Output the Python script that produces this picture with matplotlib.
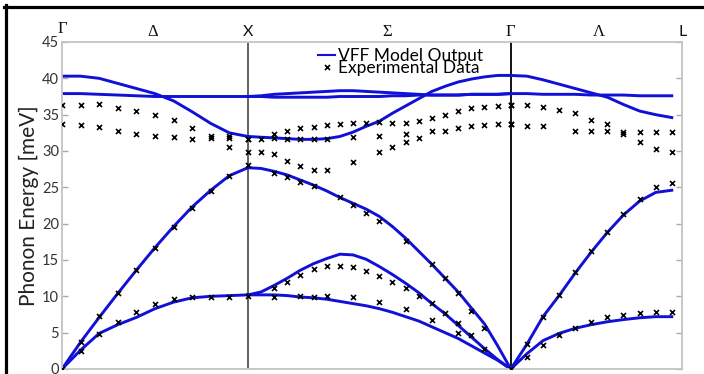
import numpy as np
import matplotlib

matplotlib.use("Agg")
import matplotlib.pyplot as plt
from matplotlib.lines import Line2D

# path through the Brillouin zone: G-X (1), X-G via Sigma (sqrt 2), G-L (sqrt 3 / 2)
GAMMA1 = 0.0
X_PT = 1.0
GAMMA2 = 1.0 + np.sqrt(2)
L_PT = GAMMA2 + np.sqrt(3) / 2

# ---- VFF model, Gamma -> X (10 steps) ----
gx_lo = [40.3, 40.3, 40.0, 39.3, 38.6, 37.9, 36.9, 35.4, 33.8, 32.5, 32.0]
gx_to = [37.9, 37.9, 37.8, 37.7, 37.6, 37.5, 37.5, 37.5, 37.5, 37.5, 37.5]
gx_la = [0.0, 3.7, 7.1, 10.4, 13.6, 16.7, 19.6, 22.3, 24.6, 26.6, 27.7]
gx_ta = [0.0, 2.6, 4.9, 6.1, 7.1, 8.3, 9.2, 9.8, 10.0, 10.1, 10.2]

# ---- VFF model, X -> Gamma along Sigma (20 steps) ----
sg_lo = [32.0, 31.9, 31.8, 31.7, 31.6, 31.6, 31.7, 32.0, 32.6, 33.4, 34.1,
         35.2, 36.2, 37.2, 38.2, 38.9, 39.5, 39.9, 40.2, 40.4, 40.4]
sg_to1 = [37.5, 37.6, 37.8, 37.9, 38.0, 38.1, 38.2, 38.3, 38.3, 38.2, 38.1,
          38.0, 37.9, 37.8, 37.7, 37.7, 37.7, 37.8, 37.8, 37.8, 37.9]
sg_to2 = [37.5, 37.5, 37.4, 37.4, 37.4, 37.4, 37.4, 37.5, 37.5, 37.5, 37.5,
          37.6, 37.6, 37.7, 37.7, 37.7, 37.7, 37.8, 37.8, 37.8, 37.9]
sg_la = [27.7, 27.6, 27.2, 26.7, 26.0, 25.3, 24.5, 23.6, 22.8, 22.0, 21.0,
         19.6, 18.0, 16.2, 14.4, 12.5, 10.6, 8.4, 6.2, 3.2, 0.0]
sg_ta2 = [10.2, 10.6, 11.5, 12.5, 13.6, 14.5, 15.2, 15.8, 15.7, 15.1, 14.1,
          13.0, 11.8, 10.5, 9.0, 7.6, 6.0, 4.4, 2.8, 1.3, 0.0]
sg_ta1 = [10.2, 10.2, 10.2, 10.1, 9.9, 9.8, 9.6, 9.3, 9.0, 8.7, 8.3,
          7.8, 7.2, 6.6, 5.8, 5.0, 4.2, 3.2, 2.2, 1.2, 0.0]

# ---- VFF model, Gamma -> L along Lambda (10 steps) ----
gl_lo = [40.4, 40.3, 39.8, 39.2, 38.6, 38.0, 37.4, 36.4, 35.5, 35.0, 34.6]
gl_to = [37.9, 37.9, 37.8, 37.8, 37.8, 37.7, 37.7, 37.7, 37.6, 37.6, 37.6]
gl_la = [0.0, 3.4, 7.2, 10.1, 13.2, 16.1, 18.8, 21.2, 23.1, 24.3, 24.6]
gl_ta = [0.0, 2.1, 3.9, 4.9, 5.6, 6.1, 6.5, 6.8, 7.05, 7.2, 7.2]

# ---- experimental data (step index along each segment, energy meV) ----
ex_gx_opt1_i = [0, 1, 2, 3, 4, 5, 6, 7, 8, 9, 10]
ex_gx_opt1_e = [36.3, 36.3, 36.4, 35.9, 35.5, 35.0, 34.3, 33.2, 32.0, 32.0, 31.7]
ex_gx_opt2_i = [0, 1, 2, 3, 4, 5, 6, 7, 8, 9, 9, 10, 10]
ex_gx_opt2_e = [33.7, 33.6, 33.3, 32.8, 32.4, 32.1, 31.9, 31.6, 31.8, 31.8, 30.5, 29.8, 28.1]
ex_gx_la_i = [0, 1, 2, 3, 4, 5, 6, 7, 8, 9]
ex_gx_la_e = [0.0, 3.7, 7.3, 10.5, 13.6, 16.6, 19.5, 22.1, 24.5, 26.6]
ex_gx_ta_i = [1, 2, 3, 4, 5, 6, 7, 8, 9, 10]
ex_gx_ta_e = [2.5, 4.75, 6.5, 7.9, 8.9, 9.6, 9.85, 9.95, 9.95, 10.0]

ex_sg_a_i = [0, 1, 2, 3, 4, 5, 6]
ex_sg_a_e = [31.7, 31.7, 31.8, 31.7, 31.7, 31.7, 31.7]
ex_sg_b_i = [2, 3, 4, 5, 6, 7, 8, 9, 10, 11, 12, 13, 14, 15, 16, 17, 18, 19, 20]
ex_sg_b_e = [32.3, 32.7, 33.1, 33.3, 33.6, 33.7, 33.8, 33.9, 34.0, 33.9,
             33.9, 34.1, 34.6, 35.0, 35.5, 35.9, 36.1, 36.2, 36.3]
ex_sg_c_i = [8, 10, 12, 13, 14, 15, 16, 17, 18, 19, 20]
ex_sg_c_e = [31.9, 32.1, 32.4, 31.8, 32.7, 32.8, 33.1, 33.4, 33.6, 33.7, 33.7]
ex_sg_d_i = [10, 11, 12]
ex_sg_d_e = [29.9, 30.6, 31.3]
ex_sg_e_i = [1, 2, 3, 4, 5, 6, 8]
ex_sg_e_e = [29.9, 29.6, 28.6, 27.9, 27.4, 27.4, 28.5]
ex_sg_la_i = [2, 3, 4, 5, 7, 8, 9, 10, 12, 14, 15, 16, 17, 18]
ex_sg_la_e = [27.0, 26.4, 25.7, 25.2, 23.7, 22.6, 21.4, 20.3, 17.6, 14.4, 12.5, 10.5, 8.0, 5.7]
ex_sg_ta2_i = [2, 3, 4, 5, 6, 7, 8, 9, 10, 11, 12, 13, 14, 15, 16, 17, 18, 20]
ex_sg_ta2_e = [11.1, 12.0, 13.0, 13.8, 14.2, 14.2, 14.0, 13.5, 12.8, 12.0,
               11.1, 10.0, 9.1, 7.7, 6.3, 4.7, 2.7, 0.0]
ex_sg_ta1_i = [2, 4, 5, 6, 8, 10, 12, 14, 16]
ex_sg_ta1_e = [9.95, 10.0, 9.95, 10.1, 9.85, 9.2, 8.2, 6.7, 4.9]

ex_gl_a_i = [0, 1, 2, 3, 4, 5, 6, 7, 8, 9, 10]
ex_gl_a_e = [36.3, 36.3, 36.1, 35.7, 35.2, 34.3, 33.7, 32.4, 31.3, 30.3, 29.9]
ex_gl_b_i = [0, 1, 2, 4, 5, 6, 7, 8, 9, 10]
ex_gl_b_e = [33.7, 33.5, 33.5, 32.7, 32.7, 32.8, 32.6, 32.6, 32.6, 32.6]
ex_gl_la_i = [1, 2, 3, 4, 5, 6, 7, 8, 9, 10]
ex_gl_la_e = [3.5, 7.1, 10.2, 13.3, 16.2, 18.8, 21.3, 23.4, 25.0, 25.6]
ex_gl_ta_i = [1, 2, 3, 4, 5, 6, 7, 8, 9, 10]
ex_gl_ta_e = [1.7, 3.3, 4.7, 5.7, 6.5, 7.1, 7.4, 7.65, 7.8, 7.8]

point_labels = ["\u0393", "\u0394", "X", "\u03a3", "\u0393", "\u039b", "L"]
point_pos = [GAMMA1, 0.49, X_PT, 1.75, GAMMA2, 2.89, L_PT + 0.058]

BLUE = "#1010d8"


def seg_x(idx, start, end, nsteps):
    idx = np.asarray(idx, dtype=float)
    return start + idx / nsteps * (end - start)


plt.rcParams["font.family"] = ["Lato", "DejaVu Sans"]
fig = plt.figure(figsize=(7.04, 3.74), dpi=100)
ax = fig.add_axes([62 / 704, 1 - 369 / 374, 620 / 704, 327 / 374])

# model curves
steps_gx = np.arange(11)
steps_sg = np.arange(21)
for branch in (gx_lo, gx_to, gx_la, gx_ta):
    ax.plot(seg_x(steps_gx, GAMMA1, X_PT, 10), branch, color=BLUE, lw=2.1)
for branch in (sg_lo, sg_to1, sg_to2, sg_la, sg_ta2, sg_ta1):
    ax.plot(seg_x(steps_sg, X_PT, GAMMA2, 20), branch, color=BLUE, lw=2.1)
for branch in (gl_lo, gl_to, gl_la, gl_ta):
    ax.plot(seg_x(steps_gx, GAMMA2, L_PT, 10), branch, color=BLUE, lw=2.1)

# experimental points
exp_kw = dict(ls="none", marker="x", ms=3.6, mew=1.2, color="black", zorder=4)
for i, e in [(ex_gx_opt1_i, ex_gx_opt1_e), (ex_gx_opt2_i, ex_gx_opt2_e),
             (ex_gx_la_i, ex_gx_la_e), (ex_gx_ta_i, ex_gx_ta_e)]:
    ax.plot(seg_x(i, GAMMA1, X_PT, 10), e, **exp_kw)
for i, e in [(ex_sg_a_i, ex_sg_a_e), (ex_sg_b_i, ex_sg_b_e), (ex_sg_c_i, ex_sg_c_e),
             (ex_sg_d_i, ex_sg_d_e), (ex_sg_e_i, ex_sg_e_e), (ex_sg_la_i, ex_sg_la_e),
             (ex_sg_ta2_i, ex_sg_ta2_e), (ex_sg_ta1_i, ex_sg_ta1_e)]:
    ax.plot(seg_x(i, X_PT, GAMMA2, 20), e, **exp_kw)
for i, e in [(ex_gl_a_i, ex_gl_a_e), (ex_gl_b_i, ex_gl_b_e),
             (ex_gl_la_i, ex_gl_la_e), (ex_gl_ta_i, ex_gl_ta_e)]:
    ax.plot(seg_x(i, GAMMA2, L_PT, 10), e, **exp_kw)

# high symmetry markers
ax.axvline(X_PT, color="#555555", lw=1.3, zorder=1)
ax.axvline(GAMMA2, color="black", lw=1.3, zorder=1)

ax.set_xlim(GAMMA1, L_PT + 0.055)
ax.set_ylim(0, 45)
ax.set_yticks(np.arange(0, 46, 5))
ax.set_xticks([])
ax.tick_params(axis="y", left=True, right=True, direction="in", length=4,
               width=1.0, color="#aaaaaa", labelsize=10.5, labelcolor="#333333", pad=2)
for sp in ax.spines.values():
    sp.set_color("#c4c4c4")
    sp.set_linewidth(1.3)
ax.set_ylabel("Phonon Energy [meV]", fontsize=15, color="#222222", labelpad=2)

for lab, xp in zip(point_labels, point_pos):
    serif = lab not in ("X", "L")
    yb = 1.027 if xp == GAMMA1 else 1.017
    ax.text(xp, yb, lab, transform=ax.get_xaxis_transform(), ha="center", va="baseline",
            fontsize=12 if serif else 11.5, color="#111111",
            family="Liberation Serif" if serif else "Lato", clip_on=False)

handles = [Line2D([], [], color=BLUE, lw=1.5),
           Line2D([], [], ls="none", marker="x", ms=3.6, mew=1.2, color="black")]
ax.legend(handles, ["VFF Model Output", "Experimental Data"], loc="upper left",
          bbox_to_anchor=(0.413, 0.982), frameon=False, fontsize=12.5, borderpad=0,
          handlelength=1.0, handletextpad=0.15, labelspacing=-0.24, borderaxespad=0)

# black frame lines at top and left of the figure
fig.add_artist(Line2D([4 / 704, 1], [1 - 6.5 / 374] * 2, color="black", lw=2.3,
                      transform=fig.transFigure))
fig.add_artist(Line2D([5.5 / 704] * 2, [0, 1 - 5 / 374], color="black", lw=2.3,
                      transform=fig.transFigure))

fig.savefig("out.png", dpi=100)
